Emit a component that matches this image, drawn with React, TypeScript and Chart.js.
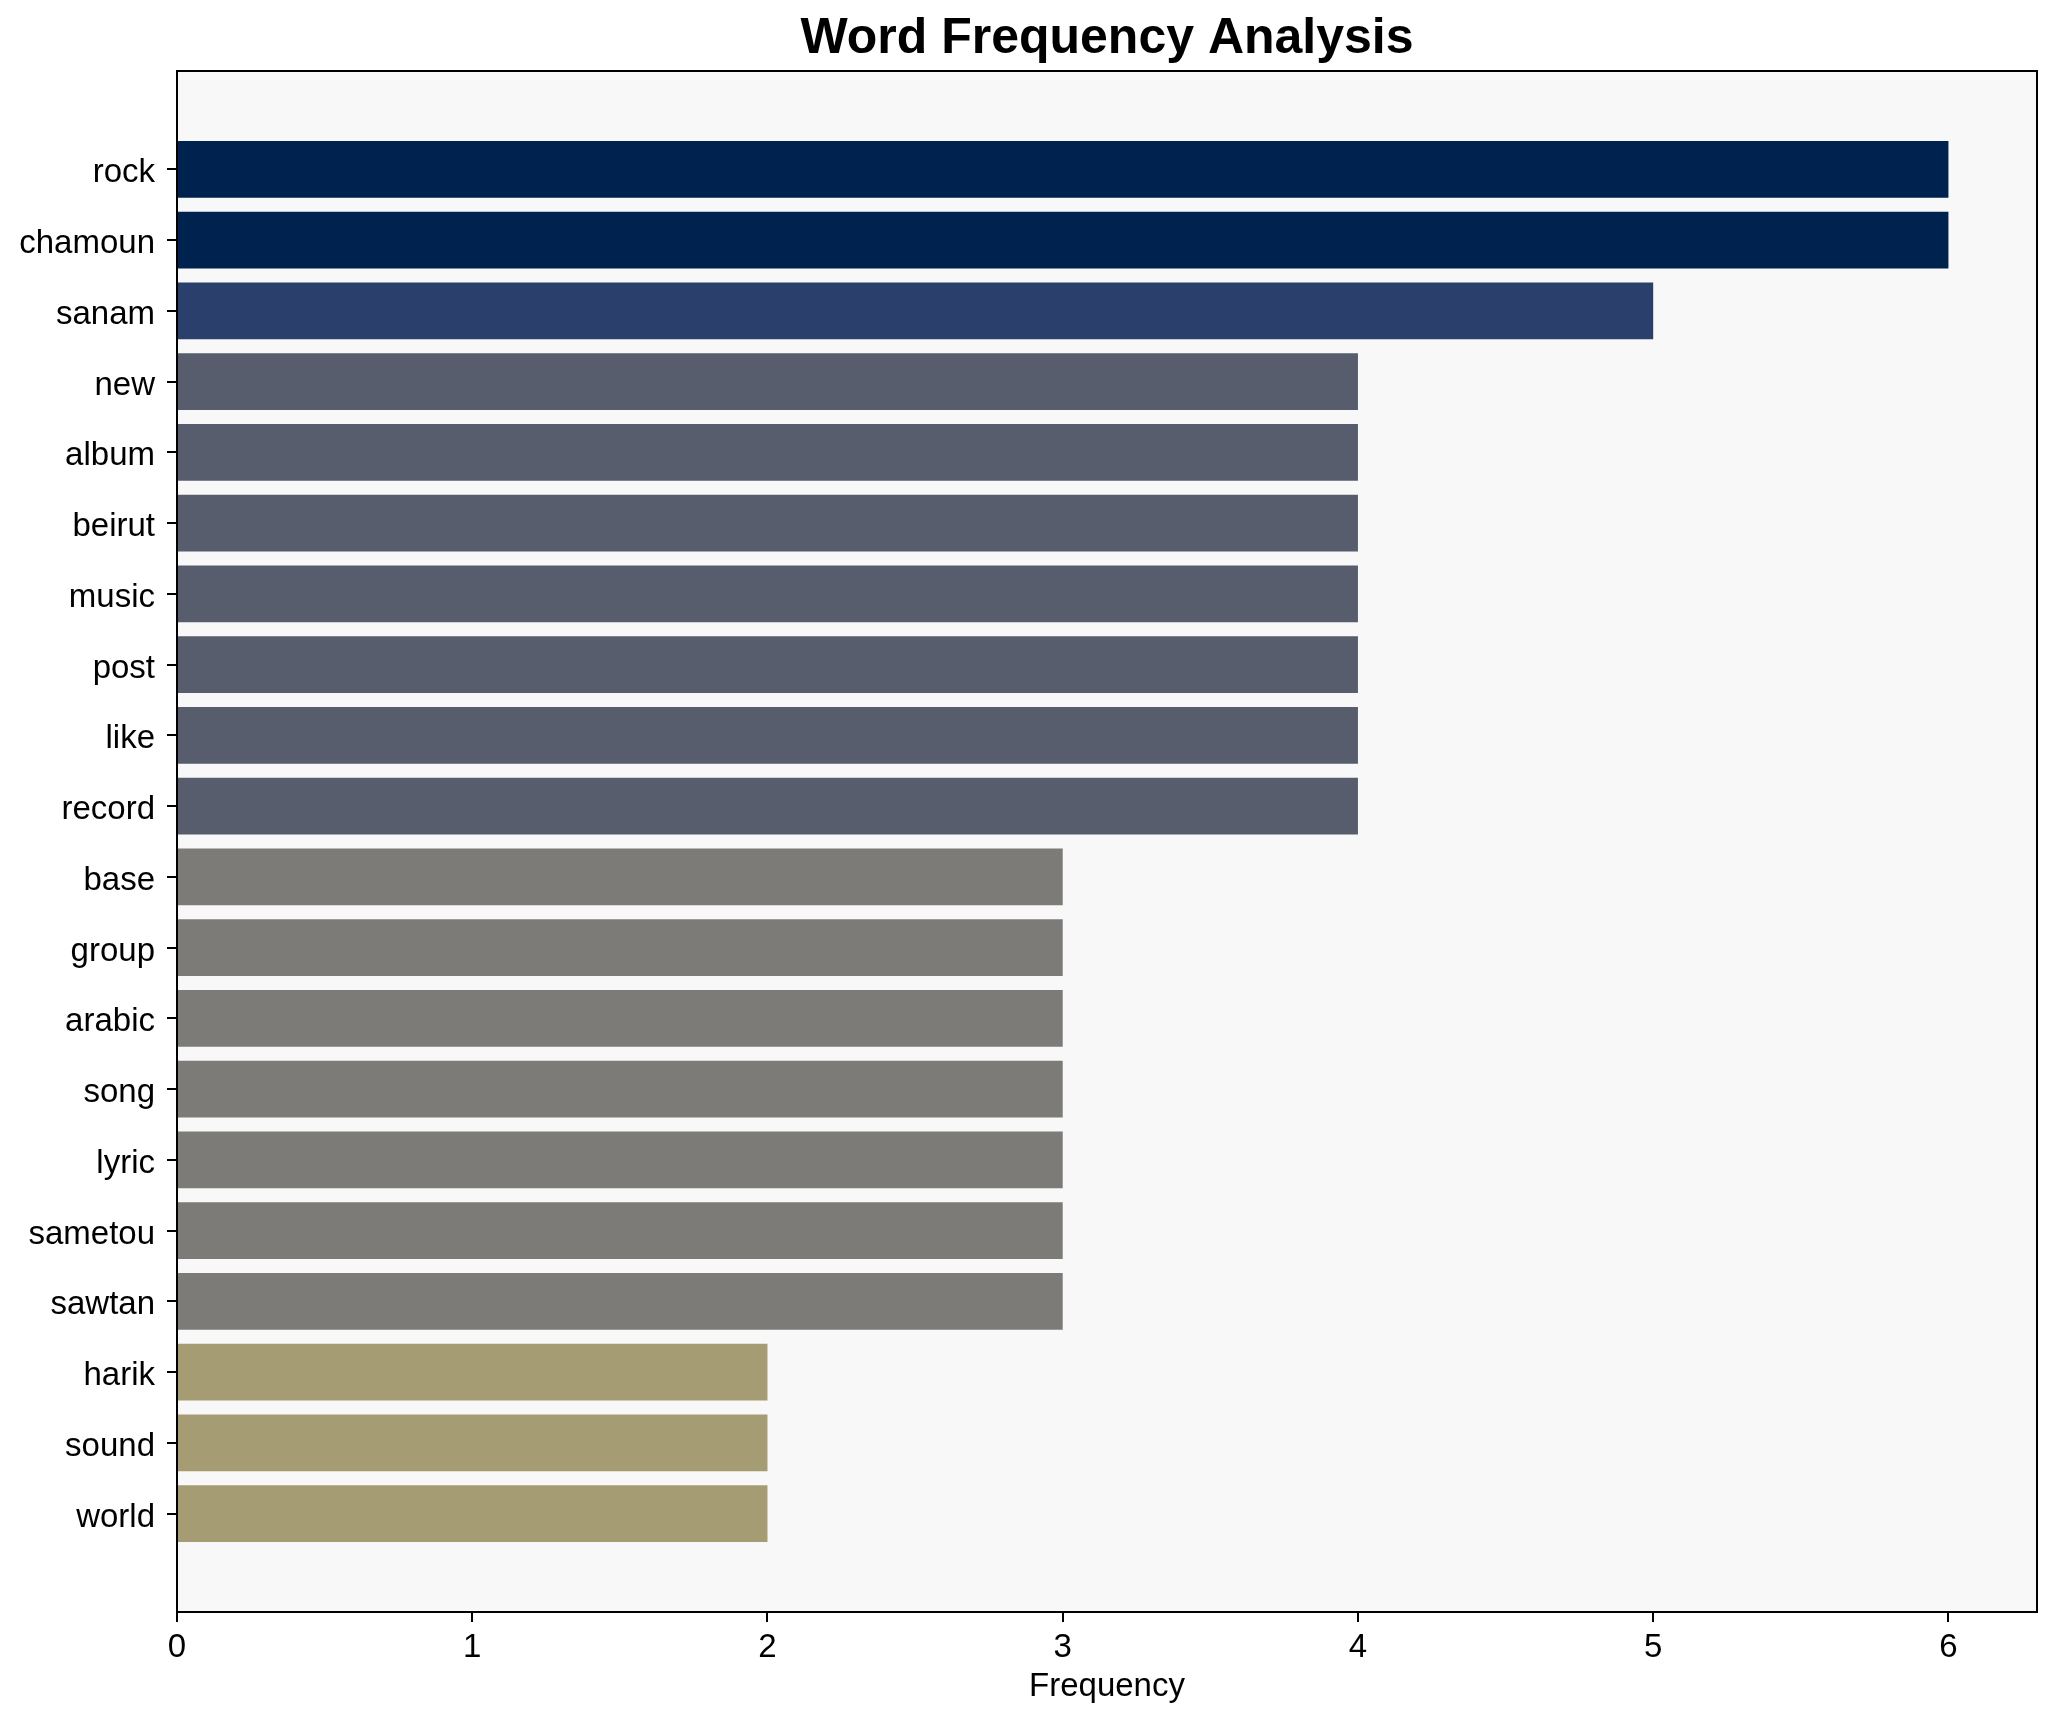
import React, { useEffect, useRef } from "react";
import { Chart, registerables } from "chart.js";

Chart.register(...registerables);

const words = [
  "rock", "chamoun", "sanam", "new", "album", "beirut", "music", "post", "like", "record",
  "base", "group", "arabic", "song", "lyric", "sametou", "sawtan", "harik", "sound", "world",
];
const frequencies = [6, 6, 5, 4, 4, 4, 4, 4, 4, 4, 3, 3, 3, 3, 3, 3, 3, 2, 2, 2];
const xTicks = [0, 1, 2, 3, 4, 5, 6];

const colorByValue: Record<number, string> = {
  6: "#00224e",
  5: "#2a3f6c",
  4: "#575d6d",
  3: "#7c7b78",
  2: "#a59c74",
};

const FONT = "'Liberation Sans', Arial, Helvetica, sans-serif";

const frame = {
  id: "frame",
  beforeDraw(chart: any) {
    const { ctx, chartArea: a } = chart;
    ctx.save();
    ctx.fillStyle = "#f8f8f8";
    ctx.fillRect(a.left, a.top, a.right - a.left, a.bottom - a.top);
    ctx.restore();
  },
  afterDraw(chart: any) {
    const { ctx, chartArea: a } = chart;
    ctx.save();
    ctx.strokeStyle = "#000";
    ctx.lineWidth = 2;
    ctx.strokeRect(a.left, a.top, a.right - a.left, a.bottom - a.top);
    ctx.restore();
  },
};

export default function App() {
  const ref = useRef<HTMLCanvasElement | null>(null);
  useEffect(() => {
    if (!ref.current) return;
    const chart = new Chart(ref.current, {
      type: "bar",
      data: {
        datasets: [
          {
            data: frequencies.map((v, i) => ({ x: v, y: i })),
            backgroundColor: frequencies.map((v) => colorByValue[v]),
            borderWidth: 0,
            categoryPercentage: 1,
            barPercentage: 0.8,
          },
        ],
      },
      options: {
        indexAxis: "y",
        animation: false,
        responsive: false,
        devicePixelRatio: 1,
        layout: { padding: { left: 0, right: 19, top: 0, bottom: 0 } },
        plugins: {
          legend: { display: false },
          tooltip: { enabled: false },
          title: {
            display: true,
            fullSize: false,
            text: "Word Frequency Analysis",
            color: "#000",
            font: { family: FONT, size: 50, weight: "bold", lineHeight: 1.2 },
            padding: { top: 9, bottom: 2 },
          },
        },
        scales: {
          x: {
            type: "linear",
            min: 0,
            max: 6.3,
            afterBuildTicks: (s: any) => {
              s.ticks = xTicks.map((v) => ({ value: v }));
            },
            afterFit: (s: any) => {
              s.height = 110;
            },
            grid: {
              display: true,
              drawOnChartArea: false,
              drawTicks: true,
              tickLength: 10,
              tickColor: "#000",
              lineWidth: 2,
            },
            border: { display: true, color: "#000", width: 2 },
            ticks: {
              color: "#000",
              font: { family: FONT, size: 33 },
              padding: 6,
              maxRotation: 0,
              callback: (v: any) => String(v),
            },
            title: {
              display: true,
              text: "Frequency",
              color: "#000",
              font: { family: FONT, size: 33, lineHeight: 1.2 },
              padding: { top: 0, bottom: 15 },
            },
          },
          y: {
            type: "linear",
            reverse: true,
            offset: false,
            min: -1.39,
            max: 20.39,
            afterBuildTicks: (s: any) => {
              s.ticks = words.map((_, i) => ({ value: i }));
            },
            afterFit: (s: any) => {
              s.width = 177;
            },
            grid: {
              display: true,
              offset: false,
              drawOnChartArea: false,
              drawTicks: true,
              tickLength: 10,
              tickColor: "#000",
              lineWidth: 2,
            },
            border: { display: true, color: "#000", width: 2 },
            ticks: {
              color: "#000",
              font: { family: FONT, size: 33 },
              padding: 12,
              labelOffset: 4,
              autoSkip: false,
              callback: (v: any) => words[Math.round(Number(v))] ?? "",
            },
          },
        },
      },
      plugins: [frame],
    } as any);
    return () => chart.destroy();
  }, []);
  return (
    <div style={{ position: "absolute", left: 0, top: 0, width: 2056, height: 1722 }}>
      <canvas ref={ref} width={2056} height={1722} style={{ width: 2056, height: 1722 }} />
    </div>
  );
}
